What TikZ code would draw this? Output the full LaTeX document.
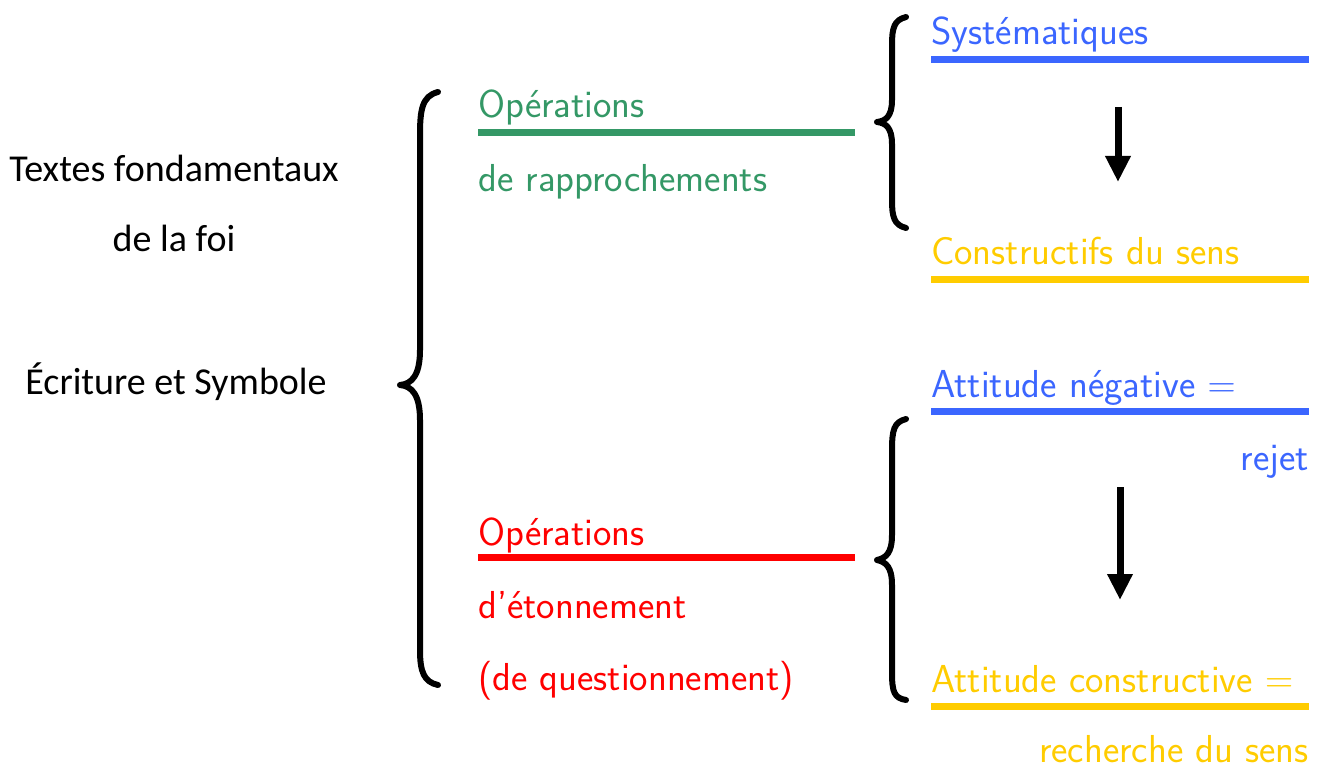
\RequirePackage{fix-cm}
\documentclass[tikz,border=0pt]{standalone}
\usepackage{fontspec}
\setmainfont{Carlito}
\usetikzlibrary{arrows.meta}
\definecolor{cgreen}{RGB}{52,152,102}
\definecolor{cblue}{RGB}{59,102,255}
\definecolor{cyellow}{RGB}{255,204,0}
\definecolor{cred}{RGB}{255,0,0}
\tikzset{
  lefttxt/.style={anchor=base, inner sep=0pt, font=\fontsize{38}{44}\selectfont},
  coltxt/.style={anchor=base west, inner sep=0pt, font=\sffamily\fontsize{39}{46}\selectfont},
  coltxtr/.style={anchor=base east, inner sep=0pt, font=\sffamily\fontsize{39}{46}\selectfont},
  uline/.style={line width=7pt},
  bracestyle/.style={line width=6pt, line cap=round, line join=round},
  bigarrow/.style={line width=7pt, -{Triangle[width=24pt,length=26pt]}}
}
\begin{document}
\begin{tikzpicture}[x=1pt,y=-1pt]
\useasboundingbox (0,0) rectangle (1323,767);
% left texts
\node[lefttxt] (t1) at (174,182) {Textes fondamentaux};
\node[lefttxt] (t2) at (174,252) {de la foi};
\node[lefttxt] (t3) at (176,394) {Écriture et Symbole};
% big brace
\draw[bracestyle] (438,92) .. controls (422,96) and (420,110) .. (420,135) -- (420,350)
  .. controls (420,375) and (412,384) .. (400,385)
  .. controls (412,386) and (420,395) .. (420,420) -- (420,650)
  .. controls (420,672) and (424,682) .. (438,685);
% green
\node[coltxt, text=cgreen] (g1) at (478,118) {Opérations};
\node[coltxt, text=cgreen] (g2) at (478,192) {de rapprochements};
\coordinate (g1e) at (855,133);
\draw[uline, cgreen] (g1e -| g1.west) -- (g1e);
% top-right brace
\draw[bracestyle] (906,17) .. controls (894,20) and (892,28) .. (892,45) -- (892,100)
  .. controls (892,116) and (886,121) .. (877,122)
  .. controls (886,123) and (892,128) .. (892,144) -- (892,200)
  .. controls (892,217) and (894,225) .. (906,228);
\node[coltxt, text=cblue] (s1) at (931,45) {Systématiques};
\coordinate (s1e) at (1309,60);
\draw[uline, cblue] (s1e -| s1.west) -- (s1e);
\node[coltxt, text=cyellow] (c1) at (931,265) {Constructifs du sens};
\coordinate (c1e) at (1309,280);
\draw[uline, cyellow] (c1e -| c1.west) -- (c1e);
\coordinate (a1s) at (1118,107);
\coordinate (a1e) at (1118,182);
\draw[bigarrow] (a1s) -- (a1e);
% red
\node[coltxt, text=cred] (r1) at (478,545) {Opérations};
\node[coltxt, text=cred] (r2) at (478,618) {d’étonnement};
\node[coltxt, text=cred] (r3) at (478,690) {(de questionnement)};
\coordinate (r1e) at (855,557);
\draw[uline, cred] (r1e -| r1.west) -- (r1e);
% bottom-right brace
\draw[bracestyle] (906,419) .. controls (894,422) and (892,430) .. (892,450) -- (892,535)
  .. controls (892,553) and (886,558) .. (877,560)
  .. controls (886,562) and (892,567) .. (892,585) -- (892,672)
  .. controls (892,692) and (894,698) .. (906,700);
\node[coltxt, text=cblue] (n1) at (931,397) {Attitude négative $=$};
\coordinate (n1e) at (1309,411);
\draw[uline, cblue] (n1e -| n1.west) -- (n1e);
\node[coltxtr, text=cblue] (n2) at (1309,470) {rejet};
\coordinate (a2s) at (1120,487);
\coordinate (a2e) at (1120,600);
\draw[bigarrow] (a2s) -- (a2e);
\node[coltxt, text=cyellow] (p1) at (931,692) {Attitude constructive $=$};
\coordinate (p1e) at (1309,706);
\draw[uline, cyellow] (p1e -| p1.west) -- (p1e);
\node[coltxtr, text=cyellow] (p2) at (1309,762) {recherche du sens};
\end{tikzpicture}
\end{document}
